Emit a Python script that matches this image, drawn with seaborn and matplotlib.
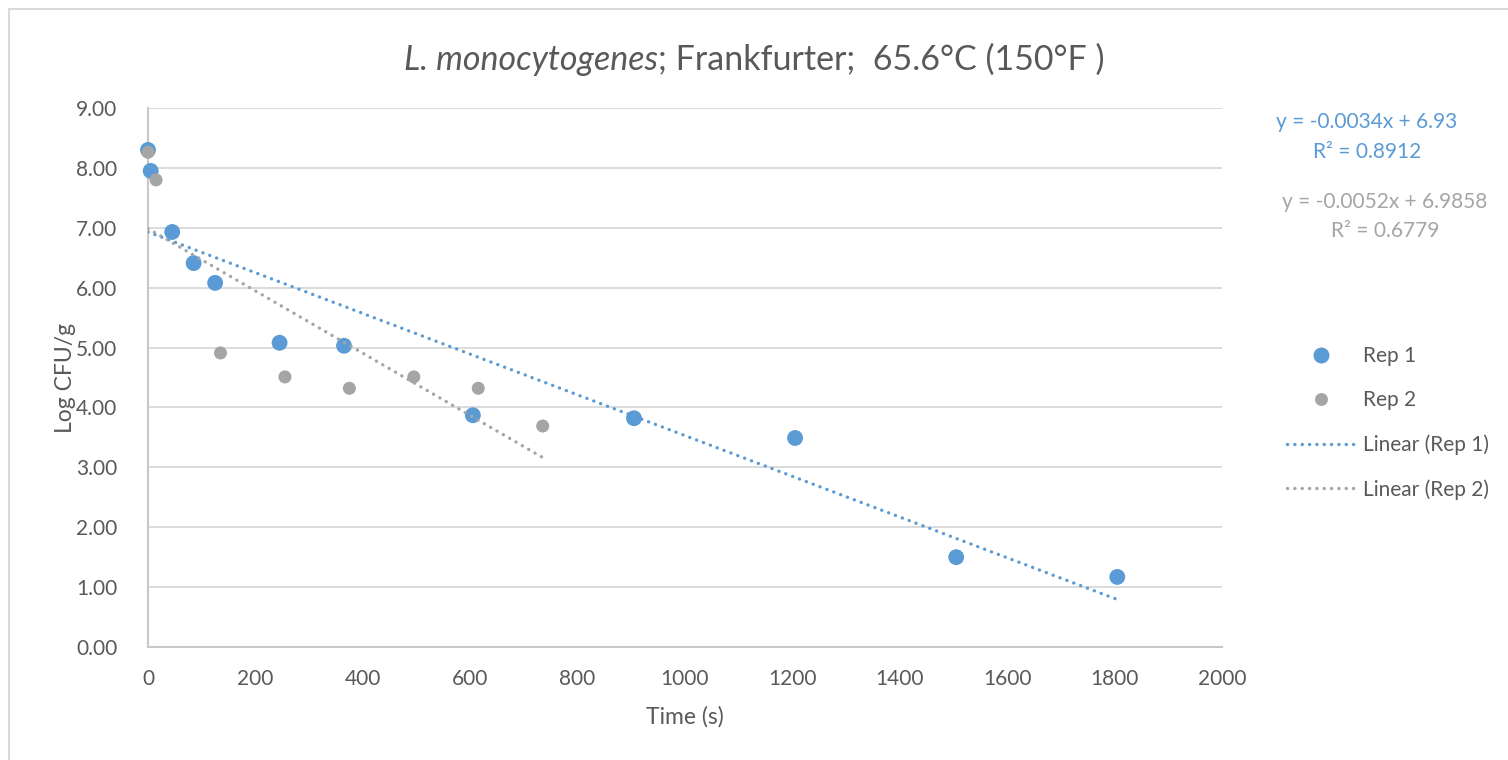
import matplotlib
matplotlib.use("Agg")
import matplotlib.pyplot as plt
from matplotlib.lines import Line2D
from matplotlib.patches import Rectangle
from matplotlib.offsetbox import TextArea, HPacker, AnchoredOffsetbox
import numpy as np
import pandas as pd
import seaborn as sns

# Survival data, two replicates
time_rep1 = [0, 5, 45, 85, 125, 245, 365, 605, 905, 1205, 1505, 1805]
log_rep1 = [8.30, 7.95, 6.93, 6.41, 6.08, 5.08, 5.03, 3.87, 3.82, 3.49, 1.50, 1.17]
time_rep2 = [0, 15, 135, 255, 375, 495, 615, 735]
log_rep2 = [8.26, 7.80, 4.91, 4.51, 4.32, 4.51, 4.32, 3.69]

# Linear trend coefficients (slope, intercept, R²)
fit_rep1 = (-0.0034, 6.93, 0.8912)
fit_rep2 = (-0.0052, 6.9858, 0.6779)

x_ticks = list(range(0, 2001, 200))
y_ticks = list(range(0, 10))

BLUE = "#5B9BD5"
GRAY = "#A5A5A5"
TEXT = "#595959"
GRID = "#D9D9D9"
DOTS = (0.05, 2.15)

sns.set_theme(style="white")
plt.rcParams["font.family"] = ["Lato", "DejaVu Sans"]
plt.rcParams["text.color"] = TEXT

fig = plt.figure(figsize=(15.08, 7.6), dpi=100)
W, H = 1508, 760
ax = fig.add_axes([148 / W, 1 - 647 / H, (1222 - 148) / W, (647 - 108) / H])

# outer chart frame
fig.patches.append(Rectangle((9 / W, -0.05), 1.2, 1 - 9 / H + 0.05,
                             transform=fig.transFigure, fill=False,
                             edgecolor=GRID, linewidth=1.5, zorder=0))

df1 = pd.DataFrame({"t": time_rep1, "log": log_rep1})
df2 = pd.DataFrame({"t": time_rep2, "log": log_rep2})

def trend(times, fit):
    xs = np.array([min(times), max(times)], dtype=float)
    return pd.DataFrame({"t": xs, "log": fit[0] * xs + fit[1]})

sns.lineplot(data=trend(time_rep1, fit_rep1), x="t", y="log", ax=ax, color=BLUE,
             zorder=4, linewidth=2.4)
sns.lineplot(data=trend(time_rep2, fit_rep2), x="t", y="log", ax=ax, color=GRAY,
             zorder=4, linewidth=2.4)
for line in ax.lines:
    line.set_dashes(DOTS)
    line.set_dash_capstyle("round")

sns.scatterplot(data=df1, x="t", y="log", ax=ax, color=BLUE, s=130,
                edgecolor="none", zorder=3, clip_on=False)
sns.scatterplot(data=df2, x="t", y="log", ax=ax, color=GRAY, s=88,
                edgecolor="none", zorder=3, clip_on=False)

ax.set_xlim(0, 2000)
ax.set_ylim(0, 9)
ax.set_xticks(x_ticks)
ax.set_yticks(y_ticks)
ax.set_yticklabels([f"{v:.2f}" for v in y_ticks])
ax.tick_params(axis="both", length=0, labelsize=15, labelcolor=TEXT)
ax.tick_params(axis="y", pad=22)
ax.tick_params(axis="x", pad=16)
ax.grid(axis="y", color=GRID, linewidth=1.3)
ax.set_axisbelow(True)
for side in ["top", "right"]:
    ax.spines[side].set_visible(False)
for side in ["left", "bottom"]:
    ax.spines[side].set_color("#C8C8C8")
    ax.spines[side].set_linewidth(1.5)

ax.set_xlabel("Time (s)", fontsize=16.5, color=TEXT, labelpad=12)
ax.set_ylabel("Log CFU/g", fontsize=16.5, color=TEXT, labelpad=0)

# title with italic species name
t_it = TextArea("L. monocytogenes", textprops=dict(fontsize=24.5, style="italic", color=TEXT))
t_rest = TextArea("; Frankfurter;  65.6°C (150°F )", textprops=dict(fontsize=24.5, color=TEXT))
box = HPacker(children=[t_it, t_rest], align="baseline", pad=0, sep=0)
anchored = AnchoredOffsetbox(loc="center", child=box, pad=0, frameon=False,
                             bbox_to_anchor=(0.5, 1 - 60 / H),
                             bbox_transform=fig.transFigure, borderpad=0)
fig.add_artist(anchored)

# trend equations
fig.text(1367 / W, 1 - 122 / H, f"y = {fit_rep1[0]:.4f}x + {fit_rep1[1]:g}",
         color=BLUE, fontsize=15, ha="center", va="center")
fig.text(1367 / W, 1 - 152 / H, f"R² = {fit_rep1[2]:.4f}",
         color=BLUE, fontsize=15, ha="center", va="center")
fig.text(1385 / W, 1 - 202 / H, f"y = {fit_rep2[0]:.4f}x + {fit_rep2[1]:g}",
         color=GRAY, fontsize=15, ha="center", va="center")
fig.text(1385 / W, 1 - 231 / H, f"R² = {fit_rep2[2]:.4f}",
         color=GRAY, fontsize=15, ha="center", va="center")

handles = [
    Line2D([], [], linestyle="none", marker="o", markersize=11.5, color=BLUE, markeredgewidth=0),
    Line2D([], [], linestyle="none", marker="o", markersize=9.3, color=GRAY, markeredgewidth=0),
    Line2D([], [], color=BLUE, linewidth=2.4, dashes=DOTS, dash_capstyle="round"),
    Line2D([], [], color=GRAY, linewidth=2.4, dashes=DOTS, dash_capstyle="round"),
]
labels = ["Rep 1", "Rep 2", "Linear (Rep 1)", "Linear (Rep 2)"]
leg = fig.legend(handles, labels, loc="upper left", bbox_to_anchor=(1287 / W, 1 - 346 / H),
                 frameon=False, fontsize=15, labelcolor=TEXT, handlelength=3.22,
                 handletextpad=0.43, labelspacing=1.16, borderaxespad=0, borderpad=0)

fig.savefig("out.png", dpi=100, facecolor="white")
